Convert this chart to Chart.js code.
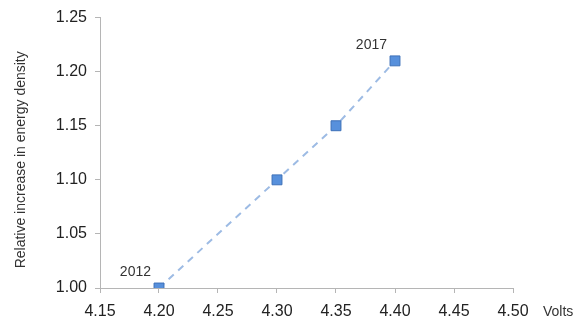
<!DOCTYPE html>
<html>
<head>
<meta charset="utf-8">
<script src="https://cdn.jsdelivr.net/npm/chart.js@4/dist/chart.umd.min.js"></script>
<style>
  html, body { margin: 0; padding: 0; background: #fff; }
  #wrap { width: 586px; height: 331px; position: relative; }
</style>
</head>
<body>
<div id="wrap"><canvas id="myChart"></canvas></div>
<script>
//--------------------- Data

//Charge voltage of each cell generation
var volts = [4.20, 4.30, 4.35, 4.40]
//Energy density relative to the 2012 cell
var density = [1.00, 1.10, 1.15, 1.21]
//Year written next to some of the points
var yearLabels = ["2012", "", "", "2017"]

var xTicks = [4.15, 4.20, 4.25, 4.30, 4.35, 4.40, 4.45, 4.50]
var yTicks = [1.00, 1.05, 1.10, 1.15, 1.20, 1.25]

var ytitle = "Relative increase in energy density"
var xtitle = "Volts"

var narrowFont = "'Liberation Sans Narrow', 'Liberation Sans', sans-serif"

//-------------------- Plugin for the extra texts

var extraText = {
    id: "extraText",
    afterDraw: function (chart) {
        var ctx = chart.ctx
        var xs = chart.scales.x
        var ys = chart.scales.y
        ctx.save()
        ctx.fillStyle = "#333"
        ctx.font = "14px " + narrowFont

        //Year labels, above and left of the point
        ctx.textAlign = "right"
        ctx.textBaseline = "bottom"
        for (var i = 0; i < volts.length; i++) {
            if (yearLabels[i] !== "") {
                var px = xs.getPixelForValue(volts[i])
                var py = ys.getPixelForValue(density[i])
                ctx.fillText(yearLabels[i], px - 8, py - 9)
            }
        }

        //X title, right of the last tick
        ctx.textAlign = "left"
        ctx.textBaseline = "middle"
        ctx.fillText(xtitle, chart.chartArea.right + 30, chart.chartArea.bottom + 24)

        //Y title, rotated
        ctx.translate(21, (chart.chartArea.top + chart.chartArea.bottom) / 2 + 7)
        ctx.rotate(-Math.PI / 2)
        ctx.textAlign = "center"
        ctx.fillText(ytitle, 0, 0)
        ctx.restore()
    }
}

//-------------------- Chart

var ctx = document.getElementById("myChart")
var myChart = new Chart(ctx, {
    type: "scatter",
    data: {
        datasets: [{
            data: volts.map(function (v, i) { return { x: v, y: density[i] } }),
            showLine: true,
            borderColor: "#9dbbe4",
            borderWidth: 2,
            borderDash: [7, 6],
            pointStyle: "rect",
            pointRadius: 7,
            pointHoverRadius: 7,
            pointBackgroundColor: "#5790dc",
            pointBorderColor: "#3d70b8",
            pointBorderWidth: 1
        }]
    },
    options: {
        animation: false,
        responsive: true,
        maintainAspectRatio: false,
        layout: { padding: { left: 0, right: 73, top: 17, bottom: 0 } },
        scales: {
            x: {
                type: "linear",
                min: xTicks[0],
                max: xTicks[xTicks.length - 1],
                afterBuildTicks: function (scale) {
                    scale.ticks = xTicks.map(function (v) { return { value: v } })
                },
                afterFit: function (scale) { scale.height = 43 },
                grid: { drawOnChartArea: false, drawTicks: true, tickLength: 5, color: "#b5b5b5" },
                border: { color: "#b5b5b5" },
                ticks: {
                    color: "#222",
                    font: { family: "'Liberation Sans', sans-serif", size: 16 },
                    padding: 9,
                    maxRotation: 0,
                    callback: function (value) { return value.toFixed(2) }
                }
            },
            y: {
                min: yTicks[0],
                max: yTicks[yTicks.length - 1],
                afterBuildTicks: function (scale) {
                    scale.ticks = yTicks.map(function (v) { return { value: v } })
                },
                afterFit: function (scale) { scale.width = 100 },
                grid: { drawOnChartArea: false, drawTicks: true, tickLength: 5, color: "#b5b5b5" },
                border: { color: "#b5b5b5" },
                ticks: {
                    color: "#222",
                    font: { family: "'Liberation Sans', sans-serif", size: 16 },
                    padding: 8,
                    callback: function (value) { return value.toFixed(2) }
                }
            }
        },
        plugins: {
            legend: { display: false },
            tooltip: { enabled: false }
        }
    },
    plugins: [extraText]
});
</script>
</body>
</html>
